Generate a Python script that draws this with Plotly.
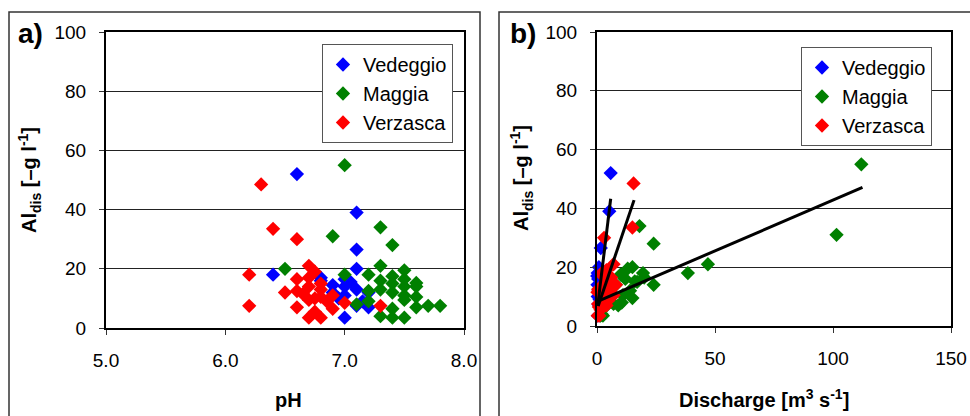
import plotly.graph_objects as go

W, H = 970, 416

# Dissolved aluminium (µg/l), pH and discharge (m3/s) per sample
vedeggio_al = [52, 39, 26.5, 20, 18, 16, 14.5, 14, 15.5, 3.5, 7.5, 7, 12, 12, 17, 11, 13, 10, 9, 16.5]
vedeggio_ph = [6.6, 7.1, 7.1, 7.1, 6.4, 6.8, 6.9, 7.0, 7.05, 7.0, 7.1, 7.2, 7.2, 6.9, 6.8, 7.0, 7.1, 6.95, 7.15, 7.0]
vedeggio_q = [5.8, 5.2, 1.6, 0.8, 0.3, 0.5, 1.2, 0.2, 2.0, 0.4, 0.6, 1.0, 1.5, 0.7, 0.1, 1.8, 2.5, 0.3, 1.1, 0.9]

maggia_al = [55, 31, 34, 28, 21, 18, 14, 20, 19.5, 18, 17.5, 16, 15, 14, 13, 12, 11, 10.5,
             9.5, 9, 8, 7.5, 7.5, 7, 6.5, 4, 3.5, 3.5, 12.5, 16.5, 15.2]
maggia_ph = [7.0, 6.9, 7.3, 7.4, 7.3, 7.0, 7.6, 6.5, 7.5, 7.2, 7.4, 7.3, 7.4, 7.5, 7.3, 7.4, 7.5, 7.6,
             7.5, 7.2, 7.1, 7.7, 7.8, 7.6, 7.4, 7.3, 7.4, 7.5, 7.2, 7.5, 7.6]
maggia_q = [112, 101.5, 18, 24, 47, 38.5, 24, 15, 13, 19.5, 10, 12, 17, 8, 6, 14, 5, 11,
            15, 3, 10.5, 7, 4, 9, 3.5, 2, 1.5, 2.5, 4, 20, 16]

verzasca_al = [48.5, 33.5, 30, 21, 18, 7.5, 7.5, 12, 16.5, 7, 3.5, 3.5, 15, 14, 11, 6.5, 8.5,
               10, 11.5, 9, 13, 17, 12.5, 9.5, 5.5, 19, 10.5]
verzasca_ph = [6.3, 6.4, 6.6, 6.7, 6.2, 6.2, 7.3, 6.5, 6.6, 6.6, 6.7, 6.8, 6.8, 6.7, 6.9, 6.9, 7.0,
               6.75, 6.65, 6.85, 6.8, 6.7, 6.6, 6.7, 6.75, 6.75, 6.8]
verzasca_q = [15.5, 15, 3, 7, 2, 1, 0.5, 1.5, 6, 4, 0.3, 1, 3.5, 8, 2.5, 0.8, 4.5,
              6, 0.2, 2, 5, 2.5, 0.5, 3, 1.5, 4, 7]

# Linear fits Al = a + b*Q with the discharge span of each fitted line
fit_names = ["Vedeggio", "Verzasca", "Maggia"]
fit_intercept = [5.0, 5.6, 8.3]
fit_slope = [6.6, 2.37, 0.345]
fit_q_min = [0.3, 0.5, 0.5]
fit_q_max = [5.8, 15.7, 112.5]

rivers = ["Vedeggio", "Maggia", "Verzasca"]
colors = {"Vedeggio": "#0000FF", "Maggia": "#008000", "Verzasca": "#FF0000"}
data = {
    "Vedeggio": (vedeggio_al, vedeggio_ph, vedeggio_q),
    "Maggia": (maggia_al, maggia_ph, maggia_q),
    "Verzasca": (verzasca_al, verzasca_ph, verzasca_q),
}

FONT = "Liberation Sans, Arial, sans-serif"

fig = go.Figure()

for name in rivers:
    al, ph, q = data[name]
    marker = dict(symbol="diamond", size=11, color=colors[name], line=dict(width=0))
    fig.add_trace(go.Scatter(x=ph, y=al, mode="markers", name=name, marker=marker,
                             xaxis="x", yaxis="y", legend="legend", cliponaxis=False))
    fig.add_trace(go.Scatter(x=q, y=al, mode="markers", name=name, marker=marker,
                             xaxis="x2", yaxis="y2", legend="legend2", cliponaxis=False))

for i, name in enumerate(fit_names):
    qs = [fit_q_min[i], fit_q_max[i]]
    ys = [fit_intercept[i] + fit_slope[i] * v for v in qs]
    fig.add_trace(go.Scatter(x=qs, y=ys, mode="lines", line=dict(color="black", width=3),
                             xaxis="x2", yaxis="y2", showlegend=False, cliponaxis=False))

def px_x(v):
    return v / W

def px_y(v):
    return 1 - v / H

axis_common = dict(showline=True, linecolor="black", linewidth=2, mirror=True,
                   ticks="outside", ticklen=5, tickcolor="#333", tickwidth=1,
                   tickfont=dict(family=FONT, size=19, color="black"), zeroline=False)

legend_common = dict(xanchor="left", yanchor="top", bgcolor="white", bordercolor="#555",
                     borderwidth=1, font=dict(family=FONT, size=20, color="black"),
                     itemwidth=30)

fig.update_layout(
    width=W, height=H,
    margin=dict(l=0, r=0, t=0, b=0, autoexpand=False),
    paper_bgcolor="white", plot_bgcolor="white",
    font=dict(family=FONT, color="black"),
    xaxis=dict(domain=[px_x(106), px_x(464)], range=[5, 8], dtick=1, tickformat=".1f",
               showgrid=False, anchor="y", ticklabelstandoff=9, **axis_common),
    yaxis=dict(domain=[px_y(328), px_y(32)], range=[0, 100], dtick=20,
               showgrid=True, gridcolor="#222", gridwidth=1, anchor="x",
               ticklabelstandoff=9, **axis_common),
    xaxis2=dict(domain=[px_x(597), px_x(951)], range=[0, 150], dtick=50,
                showgrid=False, anchor="y2", ticklabelstandoff=9, **axis_common),
    yaxis2=dict(domain=[px_y(326), px_y(32)], range=[0, 100], dtick=20,
                showgrid=True, gridcolor="#222", gridwidth=1, anchor="x2",
                ticklabelstandoff=9, **axis_common),
    legend=dict(x=px_x(322), y=px_y(44), **legend_common),
    legend2=dict(x=px_x(801), y=px_y(47), **legend_common),
)

# Panel frames
fig.add_shape(type="rect", xref="paper", yref="paper",
              x0=px_x(9), x1=px_x(480), y0=-0.2, y1=px_y(12),
              line=dict(color="#333", width=1.5), fillcolor="rgba(0,0,0,0)", layer="below")
fig.add_shape(type="rect", xref="paper", yref="paper",
              x0=px_x(499), x1=1.1, y0=-0.2, y1=px_y(12),
              line=dict(color="#333", width=1.5), fillcolor="rgba(0,0,0,0)", layer="below")

title_font = dict(family=FONT, size=20, color="black")
ytitle = "<b>Al<sub>dis</sub> [–g l<sup>-1</sup>]</b>"
annotations = [
    dict(text="<b>a)</b>", x=px_x(16), y=px_y(33), xanchor="left", yanchor="middle",
         font=dict(family=FONT, size=28, color="black")),
    dict(text="<b>b)</b>", x=px_x(508), y=px_y(33), xanchor="left", yanchor="middle",
         font=dict(family=FONT, size=28, color="black")),
    dict(text="<b>pH</b>", x=px_x(288), y=px_y(400), xanchor="center", yanchor="middle",
         font=title_font),
    dict(text="<b>Discharge [m<sup>3</sup> s<sup>-1</sup>]</b>", x=px_x(764), y=px_y(398),
         xanchor="center", yanchor="middle", font=title_font),
    dict(text=ytitle, x=px_x(29), y=px_y(180), xanchor="center", yanchor="middle",
         textangle=-90, font=title_font),
    dict(text=ytitle, x=px_x(521), y=px_y(178), xanchor="center", yanchor="middle",
         textangle=-90, font=title_font),
]
for a in annotations:
    a.update(xref="paper", yref="paper", showarrow=False)
fig.update_layout(annotations=annotations)

# Page without the default body margin so the figure fills the window exactly
fig.write_html("out.html",
               post_script="document.body.style.margin='0';document.body.style.overflow='hidden';")
